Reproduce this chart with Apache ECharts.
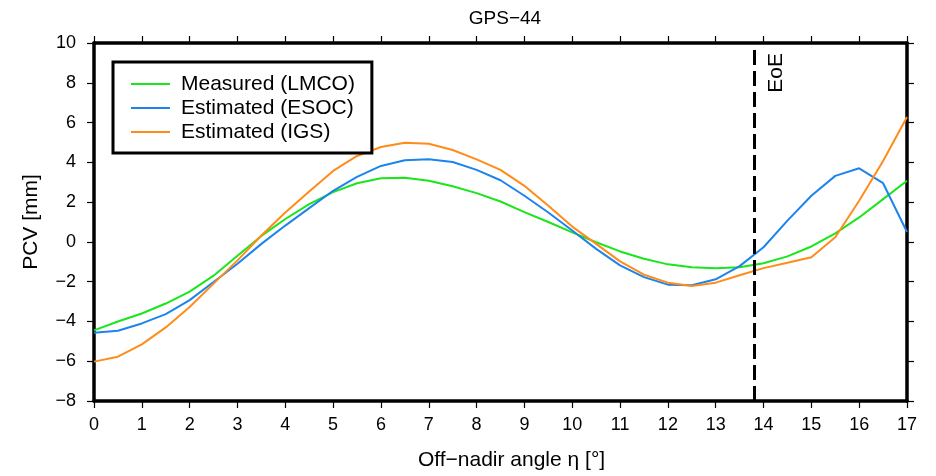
<!DOCTYPE html>
<html>
<head>
<meta charset="utf-8">
<script src="https://cdn.jsdelivr.net/npm/echarts@6/dist/echarts.min.js"></script>
<style>html,body{margin:0;padding:0;background:#fff}#c{width:936px;height:476px}</style>
</head>
<body>
<div id="c"></div>
<script>
var angles = [0,0.5,1,1.5,2,2.5,3,3.5,4,4.5,5,5.5,6,6.5,7,7.5,8,8.5,9,9.5,10,10.5,11,11.5,12,12.5,13,13.5,14,14.5,15,15.5,16,16.5,17];
var measuredLMCO = [-4.45,-4.0,-3.6,-3.1,-2.5,-1.7,-0.7,0.3,1.15,1.9,2.5,2.95,3.2,3.23,3.07,2.8,2.45,2.03,1.5,1.0,0.48,-0.02,-0.48,-0.85,-1.13,-1.28,-1.32,-1.27,-1.07,-0.73,-0.23,0.43,1.23,2.15,3.07];
var estimatedESOC = [-4.57,-4.47,-4.1,-3.63,-2.93,-2.02,-1.1,-0.1,0.82,1.7,2.57,3.27,3.82,4.1,4.15,4.02,3.62,3.1,2.32,1.48,0.57,-0.35,-1.18,-1.77,-2.15,-2.18,-1.88,-1.22,-0.27,1.07,2.32,3.32,3.7,2.95,0.5];
var estimatedIGS = [-6.02,-5.77,-5.15,-4.3,-3.27,-2.1,-0.93,0.32,1.48,2.53,3.57,4.32,4.77,4.98,4.93,4.62,4.15,3.62,2.82,1.82,0.77,-0.1,-0.98,-1.65,-2.05,-2.22,-2.05,-1.68,-1.32,-1.05,-0.77,0.23,2.07,4.07,6.28];
var seriesNames = ['Measured (LMCO)','Estimated (ESOC)','Estimated (IGS)'];
var eoeAngle = 13.8;
var chartTitle = 'GPS\u221244';
var xName = 'Off\u2212nadir angle \u03b7 [\u00b0]';
var yName = 'PCV [mm]';

function pairs(xs, ys){ return xs.map(function(x,i){ return [x, ys[i]]; }); }
function minusFmt(v){ return String(v).replace('-', '\u2212'); }

var FONT = '"Liberation Sans", Arial, Helvetica, sans-serif';
var colors = ['#1be51b','#1c84ec','#ff8c1a'];
var axisLine = {show:true, onZero:false, lineStyle:{color:'#000', width:3.5}};
var axisTick = {show:true, inside:false, length:7, lineStyle:{color:'#000', width:1.2}};

var chart = echarts.init(document.getElementById('c'), null, {renderer:'canvas'});
chart.setOption({
  animation:false,
  backgroundColor:'#fff',
  title:{text:chartTitle, left:500, top:4, textAlign:'center',
    textStyle:{fontFamily:FONT, fontSize:19, fontWeight:'normal', color:'#000'}},
  grid:{left:94, right:29, top:43, bottom:73, containLabel:false},
  legend:{
    orient:'vertical', left:113, top:62,
    padding:[10,17,9,18],
    borderColor:'#000', borderWidth:3, backgroundColor:'#fff',
    icon:'rect', itemWidth:39, itemHeight:2, itemGap:0,
    textStyle:{fontFamily:FONT, fontSize:21, color:'#000', lineHeight:24, padding:[0,0,0,6]},
    data:seriesNames
  },
  xAxis:[
    {type:'value', position:'bottom', min:0, max:17, interval:1,
     axisLine:axisLine, axisTick:axisTick, splitLine:{show:false},
     axisLabel:{fontFamily:FONT, fontSize:18, color:'#000', margin:15, formatter:minusFmt},
     name:xName, nameLocation:'middle', nameGap:49,
     nameTextStyle:{fontFamily:FONT, fontSize:21, color:'#000', padding:[0,0,0,22]}},
    {type:'value', position:'top', min:0, max:17, interval:1,
     axisLine:axisLine, axisTick:axisTick, splitLine:{show:false},
     axisLabel:{show:false}}
  ],
  yAxis:[
    {type:'value', position:'left', min:-8, max:10, interval:2,
     axisLine:axisLine, axisTick:axisTick, splitLine:{show:false},
     axisLabel:{fontFamily:FONT, fontSize:18, color:'#000', margin:18, formatter:minusFmt},
     name:yName, nameLocation:'middle', nameGap:52,
     nameTextStyle:{fontFamily:FONT, fontSize:21, color:'#000'}},
    {type:'value', position:'right', min:-8, max:10, interval:2,
     axisLine:axisLine, axisTick:axisTick, splitLine:{show:false},
     axisLabel:{show:false}}
  ],
  series:[
    {name:seriesNames[0], type:'line', data:pairs(angles, measuredLMCO), symbol:'none',
     lineStyle:{color:colors[0], width:2}, itemStyle:{color:colors[0]},
     markLine:{silent:true, symbol:'none', animation:false,
       lineStyle:{color:'#000', width:3, type:[15,6]},
       label:{show:true, formatter:'EoE', position:'insideEndBottom', distance:[10,12],
         fontFamily:FONT, fontSize:21, color:'#000'},
       data:[{xAxis:eoeAngle}]}},
    {name:seriesNames[1], type:'line', data:pairs(angles, estimatedESOC), symbol:'none',
     lineStyle:{color:colors[1], width:2}, itemStyle:{color:colors[1]}},
    {name:seriesNames[2], type:'line', data:pairs(angles, estimatedIGS), symbol:'none',
     lineStyle:{color:colors[2], width:2}, itemStyle:{color:colors[2]}}
  ]
});
</script>
</body>
</html>
